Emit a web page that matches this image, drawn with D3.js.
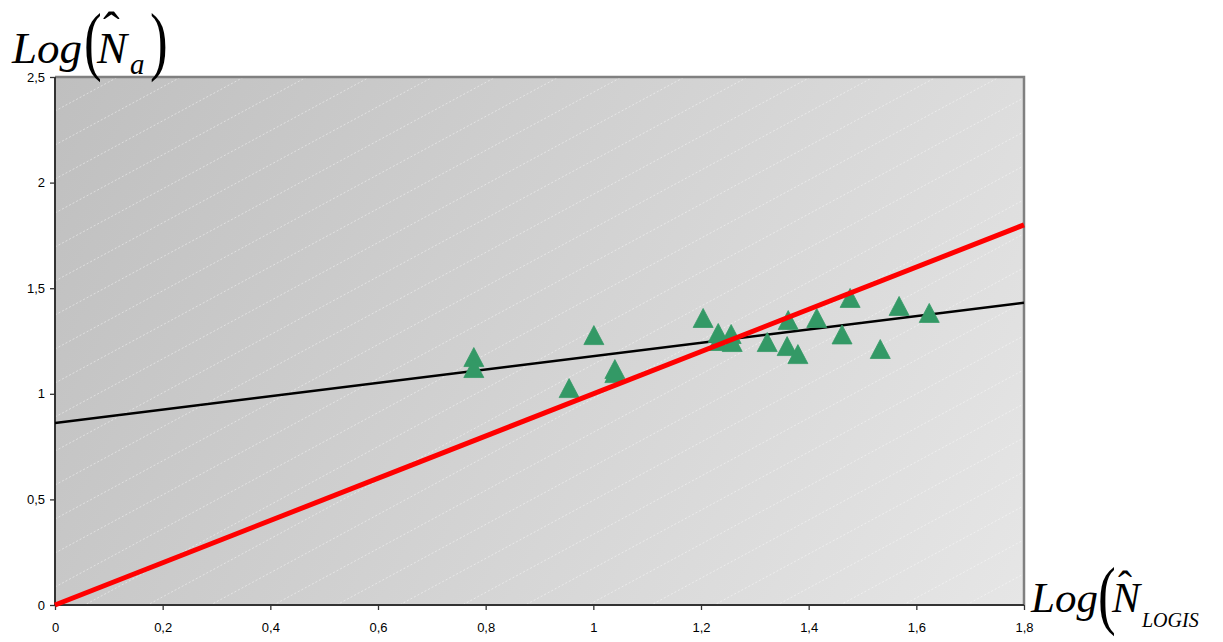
<!DOCTYPE html>
<html>
<head>
<meta charset="utf-8">
<script src="https://cdn.jsdelivr.net/npm/d3@7/dist/d3.min.js"></script>
<style>
  html, body { margin: 0; padding: 0; background: #ffffff; }
  svg { display: block; }
  .tick text { font-family: "Liberation Sans", Arial, sans-serif; font-size: 13px; fill: #000; }
  .math { font-family: "Liberation Serif", "Times New Roman", serif; fill: #000; }
</style>
</head>
<body>
<svg id="chart" width="1223" height="642"></svg>
<script>
// Observed points: log of logistic estimate (x) vs log of estimate (y)
const xValues = [0.778, 0.778, 0.955, 1.001, 1.040, 1.040, 1.204, 1.232, 1.232, 1.256, 1.258,
                 1.323, 1.360, 1.362, 1.380, 1.415, 1.462, 1.477, 1.533, 1.568, 1.624];
const yValues = [1.174, 1.122, 1.027, 1.278, 1.117, 1.098, 1.359, 1.288, 1.250, 1.283, 1.245,
                 1.245, 1.226, 1.349, 1.188, 1.359, 1.281, 1.454, 1.212, 1.416, 1.383];

// Fitted linear trend and the identity line y = x
const trendIntercept = 0.862;
const trendSlope = 0.316;
const identityLine = [[0, 0], [1.8, 1.8]];

// Axis ticks and their labels
const xTicks = [0, 0.2, 0.4, 0.6, 0.8, 1, 1.2, 1.4, 1.6, 1.8];
const xTickLabels = ["0", "0,2", "0,4", "0,6", "0,8", "1", "1,2", "1,4", "1,6", "1,8"];
const yTicks = [0, 0.5, 1, 1.5, 2, 2.5];
const yTickLabels = ["0", "0,5", "1", "1,5", "2", "2,5"];

const svg = d3.select("#chart");
const pLeft = 55, pRight = 1024, pTop = 77, pBottom = 605;

const x = d3.scaleLinear().domain([0, 1.8]).range([pLeft, pRight]);
const y = d3.scaleLinear().domain([0, 2.5]).range([pBottom, pTop]);

const defs = svg.append("defs");
const grad = defs.append("linearGradient")
  .attr("id", "bg").attr("gradientUnits", "userSpaceOnUse")
  .attr("x1", pLeft).attr("y1", pTop).attr("x2", pRight).attr("y2", pBottom);
grad.append("stop").attr("offset", "0%").attr("stop-color", "#bfbfbf");
grad.append("stop").attr("offset", "100%").attr("stop-color", "#e6e6e6");

defs.append("clipPath").attr("id", "plotClip")
  .append("rect").attr("x", pLeft).attr("y", pTop)
  .attr("width", pRight - pLeft).attr("height", pBottom - pTop);

// Plot background
svg.append("rect")
  .attr("x", pLeft).attr("y", pTop)
  .attr("width", pRight - pLeft).attr("height", pBottom - pTop)
  .attr("fill", "url(#bg)");

// Faint dotted diagonal shading bands
const bands = svg.append("g").attr("clip-path", "url(#plotClip)");
const bandSlope = 0.54, bandStep = 34;
for (let y0 = pTop; y0 < pBottom + (pRight - pLeft) * bandSlope + bandStep; y0 += bandStep) {
  bands.append("line")
    .attr("x1", pLeft).attr("y1", y0)
    .attr("x2", pRight).attr("y2", y0 - (pRight - pLeft) * bandSlope)
    .attr("stroke", "#ffffff").attr("stroke-opacity", 0.45)
    .attr("stroke-width", 1).attr("stroke-dasharray", "2,2");
}

// Frame: grey top and right edges
svg.append("path")
  .attr("d", `M${pLeft},${pTop}H${pRight}V${pBottom}`)
  .attr("fill", "none").attr("stroke", "#808080").attr("stroke-width", 2.5);

// Axes
const xAxis = d3.axisBottom(x).tickValues(xTicks)
  .tickFormat((d, i) => xTickLabels[i]).tickSize(5).tickPadding(13);
const yAxis = d3.axisLeft(y).tickValues(yTicks)
  .tickFormat((d, i) => yTickLabels[i]).tickSize(5).tickPadding(5);

const gx = svg.append("g").attr("transform", `translate(0,${pBottom})`).call(xAxis);
const gy = svg.append("g").attr("transform", `translate(${pLeft},0)`).call(yAxis);
[gx, gy].forEach(g => {
  g.select(".domain").attr("stroke", "#333333").attr("stroke-width", 2);
  g.selectAll(".tick line").attr("stroke", "#333333").attr("stroke-width", 1.3);
});
gx.select(".domain").attr("d", `M${pLeft},0H${pRight}`);
gy.select(".domain").attr("d", `M0,${pTop}V${pBottom}`);

// Lines
const lineGen = d3.line().x(d => x(d[0])).y(d => y(d[1]));
const plot = svg.append("g").attr("clip-path", "url(#plotClip)");

plot.append("path")
  .datum([[0, trendIntercept], [1.8, trendIntercept + trendSlope * 1.8]])
  .attr("d", lineGen)
  .attr("fill", "none").attr("stroke", "#000000").attr("stroke-width", 2.5);

// Triangle markers
const tri = d3.path();
tri.moveTo(0, -9.5); tri.lineTo(10, 9.5); tri.lineTo(-10, 9.5); tri.closePath();
plot.selectAll("path.pt")
  .data(xValues.map((v, i) => [v, yValues[i]]))
  .join("path")
  .attr("class", "pt")
  .attr("d", tri.toString())
  .attr("transform", d => `translate(${x(d[0])},${y(d[1])})`)
  .attr("fill", "#339966")
  .attr("stroke", "#339966").attr("stroke-width", 0.8).attr("stroke-linejoin", "round");

svg.append("path")
  .datum(identityLine)
  .attr("d", lineGen)
  .attr("fill", "none").attr("stroke", "#ff0000").attr("stroke-width", 5);

// Axis titles
function parens(g, px, py, size, ch) {
  g.append("text").attr("class", "math")
    .attr("transform", `translate(${px},${py}) scale(0.7,1)`)
    .attr("font-size", size).text(ch);
}
const yt = svg.append("g");
yt.append("text").attr("class", "math").attr("x", 12).attr("y", 63)
  .attr("font-size", 45).attr("font-style", "italic").text("Log");
parens(yt, 84, 66, 76, "(");
yt.append("text").attr("class", "math").attr("x", 97).attr("y", 63)
  .attr("font-size", 45).attr("font-style", "italic").text("N");
yt.append("text").attr("class", "math").attr("x", 103).attr("y", 47)
  .attr("font-size", 50).text("ˆ");
yt.append("text").attr("class", "math").attr("x", 130).attr("y", 74)
  .attr("font-size", 29).attr("font-style", "italic").text("a");
parens(yt, 150, 66, 76, ")");

const xt = svg.append("g");
xt.append("text").attr("class", "math").attr("x", 1031).attr("y", 612)
  .attr("font-size", 43).attr("font-style", "italic").text("Log");
parens(xt, 1098, 620, 76, "(");
xt.append("text").attr("class", "math").attr("x", 1112).attr("y", 612)
  .attr("font-size", 42).attr("font-style", "italic").text("N");
xt.append("text").attr("class", "math").attr("x", 1118).attr("y", 600)
  .attr("font-size", 42).text("ˆ");
xt.append("text").attr("class", "math").attr("x", 1142).attr("y", 627)
  .attr("font-size", 20).attr("font-style", "italic").text("LOGIS");
</script>
</body>
</html>
